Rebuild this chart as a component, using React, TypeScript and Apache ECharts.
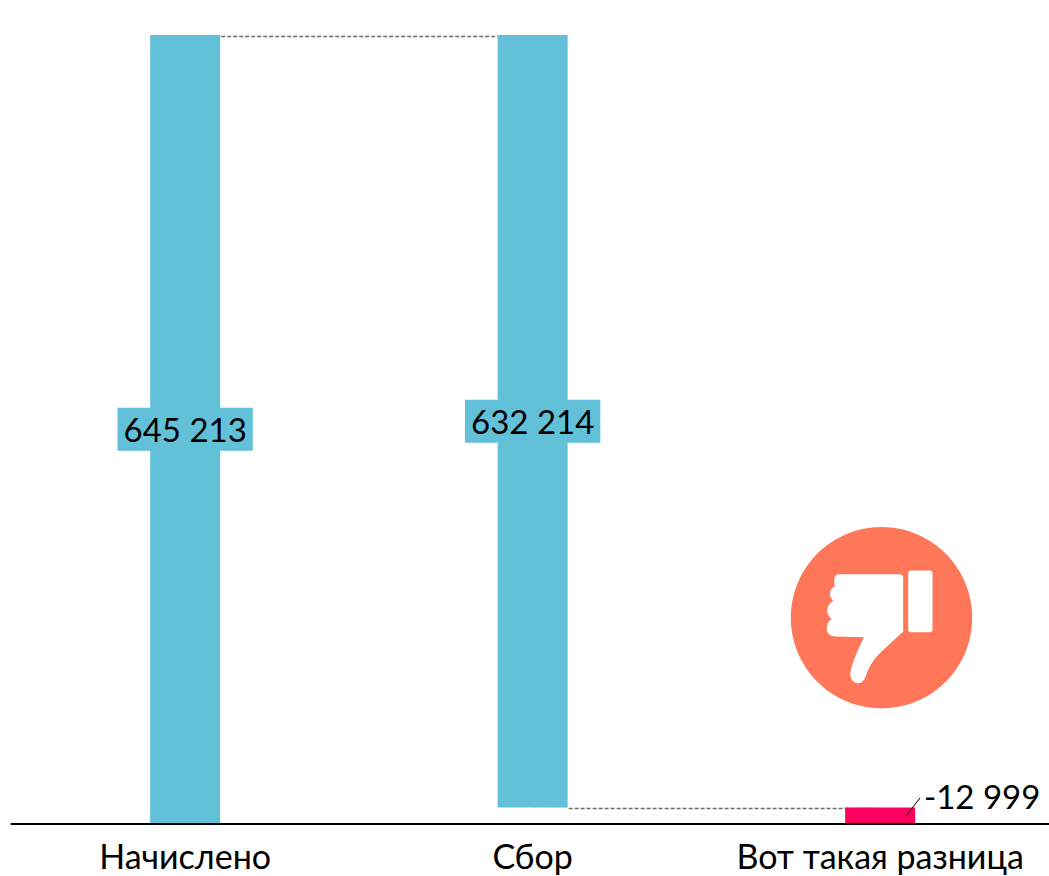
import React, { useEffect, useRef } from "react";
import * as echarts from "echarts";

const categories = ["Начислено", "Сбор", "Вот такая разница"];
const baseValues = [0, 12999, 0];
const barValues = [645213, 632214, 12999];
const barLabels = ["645 213", "632 214", "-12 999"];
const topLevel = 645213;
const stepLevel = 12999;

const FONT = "Lato, 'Open Sans', 'Noto Sans', sans-serif";
const BLUE = "#62C1D9";
const PINK = "#FF0060";

const THUMB_D =
  "M175 163 L358 163 Q370 163 370 175 L370 335 L305 395 Q278 420 265 450 L255 475 Q247 491 232 490 Q211 487 211 462 Q212 435 252 352 L165 350 Q140 347 140 325 Q142 305 155 297 Q140 285 142 268 Q145 250 160 243 Q148 232 150 218 Q152 205 165 198 Q162 188 163 178 Q165 163 175 163 Z " +
  "M393 152 L450 152 Q458 152 458 160 L458 329 Q458 337 450 337 L393 337 Q385 337 385 329 L385 160 Q385 152 393 152 Z";
echarts.graphic.registerShape("thumbDown", echarts.graphic.extendPath(THUMB_D, {}) as any);

export default function App() {
  const ref = useRef<HTMLDivElement>(null);
  useEffect(() => {
    const chart = echarts.init(ref.current!, undefined, { renderer: "svg" });
    chart.setOption({
      animation: false,
      backgroundColor: "#fff",
      grid: { left: 11.4, top: 35, width: 1042.5, height: 788.5, containLabel: false },
      xAxis: {
        type: "category",
        data: categories,
        z: 5,
        axisTick: { show: false },
        axisLine: { lineStyle: { color: "#000", width: 2 } },
        axisLabel: { color: "#000", fontSize: 34, fontFamily: FONT, margin: 15, interval: 0 },
      },
      yAxis: { type: "value", min: 0, max: topLevel, show: false, splitLine: { show: false } },
      series: [
        {
          name: "base",
          type: "bar",
          stack: "w",
          barWidth: 70,
          z: 3,
          itemStyle: { color: "#fff" },
          data: baseValues,
          markLine: {
            silent: true,
            symbol: "none",
            z: 1,
            label: { show: false },
            lineStyle: { color: "#6E6E6E", type: [4, 2], width: 1.3 },
            data: [
              [{ coord: [categories[0], topLevel - 700] }, { coord: [categories[1], topLevel - 700] }],
              [{ coord: [categories[1], stepLevel - 400] }, { coord: [categories[2], stepLevel - 400] }],
            ],
          },
        },
        {
          name: "value",
          type: "bar",
          stack: "w",
          barWidth: 70,
          z: 3,
          data: barValues.map((value, i) => ({
            value,
            itemStyle: { color: i === 2 ? PINK : BLUE },
            label:
              i === 2
                ? { position: "inside", offset: [102, -20], backgroundColor: "transparent", padding: 0 }
                : { position: "inside", backgroundColor: BLUE, padding: [2, 6, 8, 6] },
          })),
          label: {
            show: true,
            color: "#000",
            fontSize: 33,
            fontFamily: FONT,
            formatter: (p: any) => barLabels[p.dataIndex],
          },
        },
      ],
      graphic: [
        { type: "circle", z: 10, shape: { cx: 881.5, cy: 617.7, r: 90.7 }, style: { fill: "#FF7659" } },
        { type: "thumbDown", z: 11, x: 780, y: 520, scaleX: 1 / 3, scaleY: 1 / 3, style: { fill: "#fff" } },
        { type: "line", z: 11, shape: { x1: 906, y1: 816, x2: 920, y2: 798 }, style: { stroke: "#000", lineWidth: 1 } },
      ],
    });
    return () => chart.dispose();
  }, []);
  return (
    <div style={{ position: "absolute", left: 0, top: 0, width: 1049, height: 876, overflow: "hidden" }}>
      <div ref={ref} style={{ width: 1060, height: 876 }} />
    </div>
  );
}
